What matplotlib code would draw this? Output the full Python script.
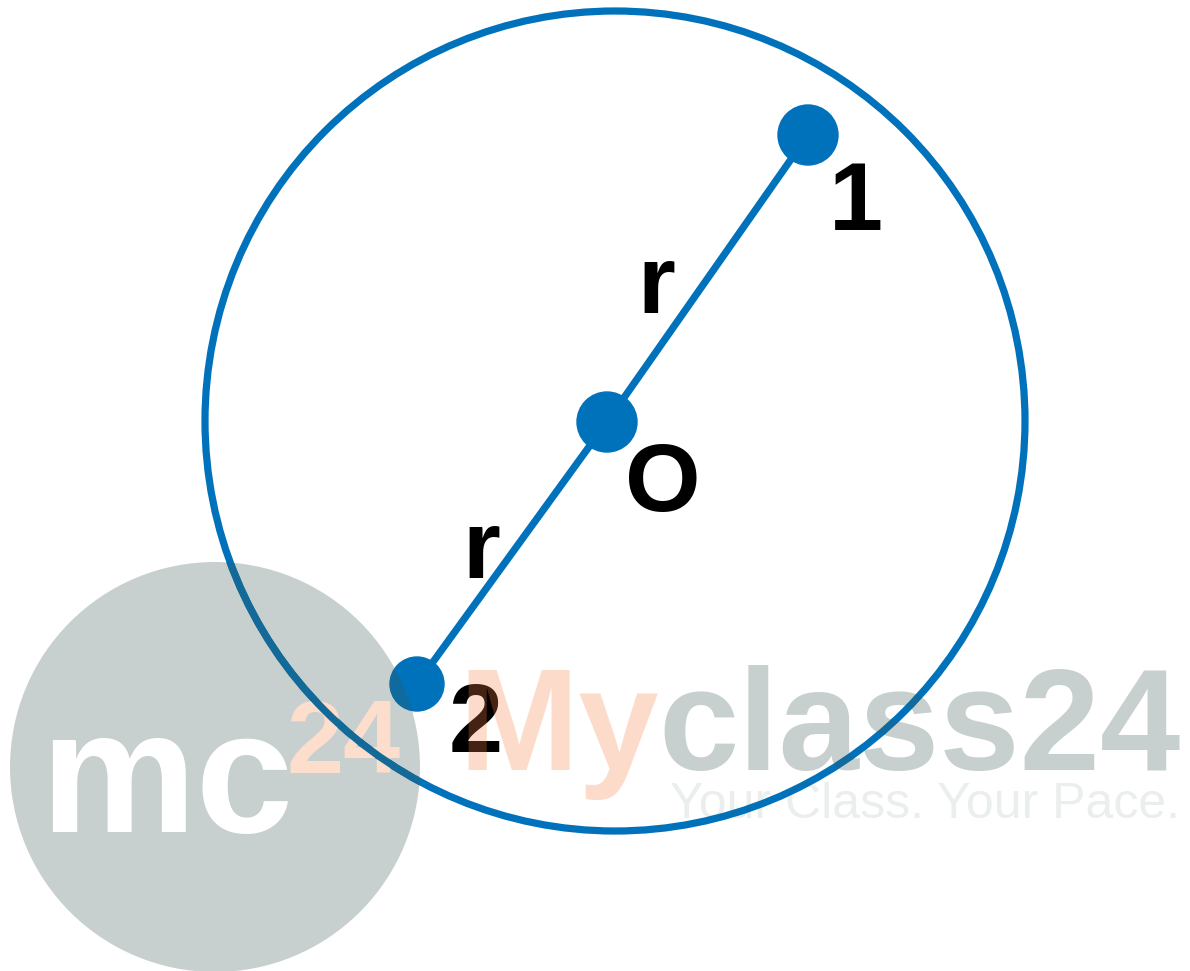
import matplotlib.pyplot as plt
from matplotlib.patches import Circle

# Pontos do diagrama (coordenadas em pixels da imagem)
point_names = ['1', 'O', '2']
point_x = [808, 607, 417]
point_y = [135, 422, 684]
point_r = [30, 30, 27]

# Circunferencia principal
circle_center = (615, 421)
circle_radius = 410

# Rotulos (posicao = linha de base)
label_text = ['1', 'r', 'O', 'r', '2']
label_x = [856, 656, 663, 481, 476]
label_y = [230, 313, 511, 578, 752]

BLUE = '#0072bc'
BLUE_DARK = '#136a99'
WM_GREY = '#39594f'
WM_PEACH = '#f68147'
WM_PEACH_SOLID = '#fdddcb'

fig = plt.figure(figsize=(11.9, 9.71), dpi=100)
ax = fig.add_axes([0, 0, 1, 1])
ax.set_xlim(0, 1190)
ax.set_ylim(971, 0)
ax.set_aspect('equal')
ax.axis('off')

# circunferencia e diametro
ax.add_patch(Circle(circle_center, circle_radius, fill=False, edgecolor=BLUE, lw=5.2, zorder=2))
ax.plot(point_x, point_y, color=BLUE, lw=5.2, solid_capstyle='butt', zorder=2)
for px, py, pr in zip(point_x, point_y, point_r):
    ax.add_patch(Circle((px, py), pr, color=BLUE, zorder=3))

for t, lx, ly in zip(label_text, label_x, label_y):
    ax.text(lx, ly, t, ha='center', va='baseline', fontsize=70,
            fontweight='bold', family='Liberation Sans', color='black', zorder=4)

# marca d'agua
wm_circle = Circle((215, 767), 205, color=WM_GREY, alpha=0.28, lw=0, zorder=10)
ax.add_patch(wm_circle)
ax.text(40, 832, 'mc', ha='left', va='baseline', fontsize=126, fontweight='bold',
        family='Liberation Sans', color='white', zorder=11)
ax.text(286, 773, '24', ha='left', va='baseline', fontsize=74, fontweight='bold',
        family='Liberation Sans', color=WM_PEACH_SOLID, zorder=11)
# linha azul vista atraves do circulo cinza
over = Circle(circle_center, circle_radius, fill=False, edgecolor=BLUE_DARK, lw=5.2, zorder=12)
ax.add_patch(over)
over.set_clip_path(wm_circle)

my = ax.text(458, 770, 'My', ha='left', va='baseline', fontsize=104, fontweight='bold',
             family='Liberation Sans', color=WM_PEACH, alpha=0.28, zorder=11)
ax.annotate('class24', xy=(1, 0), xycoords=my, ha='left', va='bottom', fontsize=104,
            fontweight='bold', family='Liberation Sans', color=WM_GREY, alpha=0.28, zorder=11)
ax.text(1180, 818, 'Your Class. Your Pace.', ha='right', va='baseline', fontsize=36,
        family='Liberation Sans', color=WM_GREY, alpha=0.1, zorder=11)

fig.savefig('out.png', dpi=100)
